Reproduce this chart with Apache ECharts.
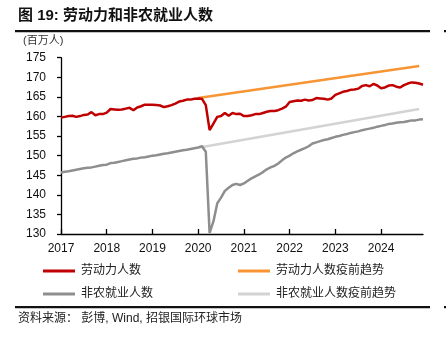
<!DOCTYPE html>
<html>
<head>
<meta charset="utf-8">
<script src="https://cdn.jsdelivr.net/npm/echarts@6/dist/echarts.min.js"></script>
<style>
html,body{margin:0;padding:0;background:#fff;}
#chart{width:446px;height:338px;}
</style>
</head>
<body>
<div id="chart"></div>
<script>
// ---- data (millions), monthly 2017-01 .. 2024-12 ----
var years = [2017, 2018, 2019, 2020, 2021, 2022, 2023, 2024];
var laborForce = [
  159.7, 159.9, 160.1, 160.2, 159.9, 160.1, 160.4, 160.5, 161.1, 160.3, 160.6, 160.6,
  161.0, 161.9, 161.8, 161.7, 161.8, 162.0, 162.2, 161.6, 162.3, 162.6, 163.0, 163.0,
  163.0, 162.9, 162.8, 162.4, 162.6, 162.9, 163.3, 163.8, 164.0, 164.3, 164.3, 164.5,
  164.6, 164.5, 162.9, 156.5, 158.2, 159.9, 160.1, 160.9, 160.2, 160.9, 160.6, 160.7,
  160.1, 160.1, 160.3, 160.6, 160.6, 160.9, 161.2, 161.4, 161.4, 161.6, 162.0, 162.5,
  163.7, 163.9, 164.1, 164.0, 164.3, 164.1, 164.2, 164.7, 164.6, 164.5, 164.3, 164.6,
  165.5, 165.9, 166.3, 166.5, 166.8, 166.9, 167.1, 167.8, 168.0, 167.7, 168.3, 167.9,
  167.2, 167.4, 167.9, 168.0, 167.6, 167.4, 168.0, 168.4, 168.7, 168.6, 168.4, 168.1
];
var payrolls = [
  145.7, 145.9, 146.0, 146.2, 146.4, 146.6, 146.8, 146.9, 147.0, 147.2, 147.4, 147.6,
  147.7, 148.1, 148.2, 148.4, 148.6, 148.8, 149.0, 149.2, 149.3, 149.5, 149.6, 149.8,
  150.0, 150.1, 150.3, 150.5, 150.6, 150.8, 151.0, 151.2, 151.4, 151.5, 151.7, 151.9,
  152.1, 152.4, 151.0, 130.3, 133.2, 137.8, 139.3, 141.0, 141.8, 142.5, 142.8, 142.5,
  142.9, 143.6, 144.2, 144.7, 145.2, 145.8, 146.5, 147.0, 147.4, 148.0, 148.8, 149.5,
  150.0, 150.6, 151.1, 151.5, 151.9, 152.4, 153.1, 153.4, 153.7, 154.0, 154.2, 154.5,
  154.8, 155.0, 155.3, 155.5, 155.8, 156.0, 156.2, 156.5, 156.7, 156.9, 157.1, 157.4,
  157.6, 157.8, 158.1, 158.2, 158.4, 158.5, 158.6, 158.8, 159.0, 159.0, 159.2, 159.3
];
var trendMonths = ['2020-01', '2024-11'];
var laborTrend = [164.7, 172.9];
var payrollTrend = [152.0, 161.9];
var yTicks = {min: 130, max: 175, interval: 5};
var names = ['劳动力人数', '劳动力人数疫前趋势', '非农就业人数', '非农就业人数疫前趋势'];

var months = [];
years.forEach(function (y) {
  for (var m = 1; m <= 12; m++) months.push(y + '-' + (m < 10 ? '0' + m : m));
});
function pairs(cats, vals) { return cats.map(function (c, i) { return [c, vals[i]]; }); }

var FONT = "'Liberation Sans', 'Noto Sans CJK SC', sans-serif";
var colors = {labor: '#C00000', laborTrend: '#F79433', pay: '#8E8E8E', payTrend: '#D3D3D3'};

var chart = echarts.init(document.getElementById('chart'), null, {renderer: 'canvas'});

function legendItem(name, left, top) {
  return {
    data: [name], left: left, top: top, icon: 'rect', itemWidth: 32, itemHeight: 3,
    itemGap: 0, padding: 0, selectedMode: false,
    textStyle: {fontFamily: FONT, fontSize: 12, color: '#222', padding: [0, 0, 0, 1]}
  };
}

chart.setOption({
  animation: false,
  backgroundColor: '#fff',
  title: {
    text: '图 19: 劳动力和非农就业人数', left: 18, top: 8, padding: 0,
    textStyle: {fontFamily: FONT, fontSize: 15, fontWeight: 'bold', color: '#111'}
  },
  graphic: [
    {type: 'rect', shape: {x: 15, y: 30, width: 415, height: 2.2}, style: {fill: '#111'}},
    {type: 'rect', shape: {x: 444, y: 30, width: 2, height: 2.2}, style: {fill: '#111'}},
    {type: 'rect', shape: {x: 15, y: 306, width: 415, height: 2.2}, style: {fill: '#111'}},
    {type: 'rect', shape: {x: 444, y: 306, width: 2, height: 2.2}, style: {fill: '#111'}},
    {type: 'text', left: 23, top: 35, style: {text: '(百万人)', font: '11px ' + FONT, fill: '#333'}},
    {type: 'text', left: 18, top: 313, style: {text: '资料来源： 彭博, Wind, 招银国际环球市场', font: '12px ' + FONT, fill: '#222'}}
  ],
  legend: [
    legendItem(names[0], 43, 265),
    legendItem(names[1], 238, 265),
    legendItem(names[2], 43, 288),
    legendItem(names[3], 238, 288)
  ],
  grid: {left: 61, right: 23, top: 57.7, bottom: 104, containLabel: false},
  xAxis: {
    type: 'category', data: months, boundaryGap: false,
    axisLine: {lineStyle: {color: '#000', width: 1.3}},
    axisTick: {inside: true, length: 5, lineStyle: {color: '#000', width: 1.3},
      interval: function (i, v) { return v.slice(5) === '01'; }},
    axisLabel: {margin: 9, fontFamily: FONT, fontSize: 12, color: '#111',
      interval: function (i, v) { return v.slice(5) === '01'; },
      formatter: function (v) { return v.slice(0, 4); }},
    splitLine: {show: false}
  },
  yAxis: {
    type: 'value', min: yTicks.min, max: yTicks.max, interval: yTicks.interval,
    axisLine: {show: true, lineStyle: {color: '#000', width: 1.3}},
    axisTick: {show: true, inside: false, length: 4, lineStyle: {color: '#000', width: 1.3}},
    axisLabel: {margin: 15, fontFamily: FONT, fontSize: 12, color: '#111'},
    splitLine: {show: false}
  },
  series: [
    {name: names[3], type: 'line', data: pairs(trendMonths, payrollTrend), showSymbol: false,
      lineStyle: {color: colors.payTrend, width: 2.5}, itemStyle: {color: colors.payTrend}},
    {name: names[1], type: 'line', data: pairs(trendMonths, laborTrend), showSymbol: false,
      lineStyle: {color: colors.laborTrend, width: 2.5}, itemStyle: {color: colors.laborTrend}},
    {name: names[2], type: 'line', data: payrolls, showSymbol: false,
      lineStyle: {color: colors.pay, width: 2.5}, itemStyle: {color: colors.pay}},
    {name: names[0], type: 'line', data: laborForce, showSymbol: false,
      lineStyle: {color: colors.labor, width: 2.5}, itemStyle: {color: colors.labor}}
  ]
});
</script>
</body>
</html>
